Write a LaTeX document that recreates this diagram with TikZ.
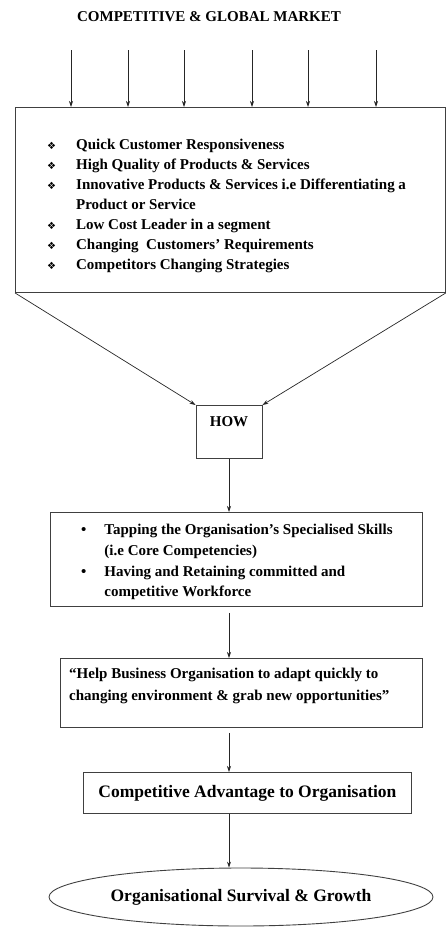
\documentclass[tikz,border=0pt]{standalone}
\usepackage{fontspec}
\setmainfont{Liberation Serif}
\newfontfamily\dejavu{DejaVu Sans}
\usetikzlibrary{arrows.meta,shapes.geometric}

\tikzset{
  flowbox/.style={draw=black!75, line width=0.9pt, inner sep=0pt},
  flowarrow/.style={-{Stealth[length=6pt,width=4pt]}, line width=0.7pt, black!85},
  flowtext/.style={anchor=north west, inner sep=0pt, align=left},
}
\newcommand{\dia}{{\dejavu\fontsize{10}{20}\selectfont ❖}}

\begin{document}
\begin{tikzpicture}[x=1pt,y=1pt,yscale=-1,font=\bfseries\fontsize{15}{20}\selectfont]
    \useasboundingbox (0,0) rectangle (446,927);

    % Title
    \node (title) at (209,17) {\fontsize{15}{17}\selectfont COMPETITIVE \& GLOBAL MARKET};

    % Market box
    \node[flowbox, minimum width=430, minimum height=185, anchor=north west] (mkt) at (15,107) {};
    \node[flowtext] (drivers) at (47,135) {%
      \begin{tabular}{@{}l@{\hspace{20pt}}l@{}}
        \dia & Quick Customer Responsiveness\\
        \dia & High Quality of Products \& Services\\
        \dia & Innovative Products \& Services i.e Differentiating a\\
             & Product or Service\\
        \dia & Low Cost Leader in a segment\\
        \dia & Changing\ \ Customers' Requirements\\
        \dia & Competitors Changing Strategies
      \end{tabular}};

    % Market arrows
    \foreach \x [count=\i] in {71,128,184,252,308,376} {
      \coordinate (src\i) at (\x,50);
      \draw[flowarrow] (src\i) -- (src\i |- mkt.north);
    }

    % HOW box
    \node[flowbox, minimum width=66, minimum height=53, anchor=north] (how) at (229,405) {};
    \node (howtext) at (229,422) {HOW};
    \draw[flowarrow] (mkt.south west) -- (how.north west);
    \draw[flowarrow] (mkt.south east) -- (how.north east);

    % Skills box
    \node[flowbox, minimum width=372, minimum height=94, anchor=north west] (skills) at (50,512) {};
    \node[flowtext] (skilltext) at (81,520) {%
      \fontsize{15}{20.7}\selectfont
      \begin{tabular}{@{}l@{\hspace{18pt}}l@{}}
        • & Tapping the Organisation's Specialised Skills\\
          & (i.e Core Competencies)\\
        • & Having and Retaining committed and\\
          & competitive Workforce
      \end{tabular}};

    % Quote box
    \node[flowbox, minimum width=362, minimum height=69, anchor=north west] (quote) at (60,658) {};
    \node[flowtext] (quotetext) at (69,668) {%
      “Help Business Organisation to adapt quickly to\\[2pt]
      changing environment \& grab new opportunities”};

    % Advantage box
    \node[flowbox, minimum width=328, minimum height=41, anchor=north west] (advantage) at (83,772)
      {\fontsize{17.5}{20}\selectfont Competitive Advantage to Organisation};

    % Survival ellipse
    \node[flowbox, ellipse, minimum width=384, minimum height=58] (survival) at (241,897)
      {\fontsize{17.5}{20}\selectfont Organisational Survival \& Growth};

    % Chain arrows
    \draw[flowarrow] (how.south) -- (how.south |- skills.north);
    \draw[flowarrow, shorten <=6pt] (how.south |- skills.south) -- (how.south |- quote.north);
    \draw[flowarrow, shorten <=5pt] (how.south |- quote.south) -- (how.south |- advantage.north);
    \draw[flowarrow] (how.south |- advantage.south) -- (how.south |- survival.north);
\end{tikzpicture}
\end{document}
